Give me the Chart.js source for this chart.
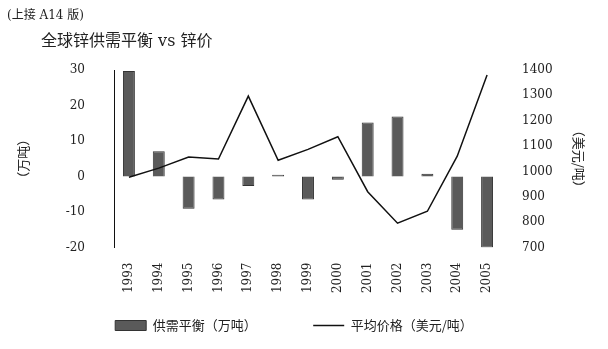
<!DOCTYPE html>
<html>
<head>
<meta charset="utf-8">
<script src="https://cdn.jsdelivr.net/npm/chart.js@4"></script>
<style>
  body { margin: 0; background: #fff; }
  #wrap { position: relative; width: 608px; height: 349px; }
  #myChart { position: absolute; left: 0; top: 0; }
  .note { position: absolute; left: 7px; top: 5px; font: 12px "DejaVu Serif", "Noto Sans CJK SC"; color: #222; }
  .head { position: absolute; left: 41px; top: 27px; font: 16px "DejaVu Serif", "Noto Sans CJK SC"; color: #222; }
</style>
</head>
<body>
<div id="wrap">
  <canvas id="myChart" width="608" height="349"></canvas>
  <div class="note">(上接 A14 版)</div>
  <div class="head">全球锌供需平衡 vs 锌价</div>
</div>
<script>
// data
let years = ["1993", "1994", "1995", "1996", "1997", "1998", "1999", "2000", "2001", "2002", "2003", "2004", "2005"];
let balance = [29.7, 7.1, -9.1, -6.5, -2.7, 0.5, -6.5, -0.9, 15.2, 16.9, 0.8, -15, -20];
let price = [977, 1013, 1057, 1049, 1297, 1044, 1087, 1137, 920, 796, 843, 1060, 1380];
let leftTicks = [30, 20, 10, 0, -10, -20];
let rightTicks = [1400, 1300, 1200, 1100, 1000, 900, 800, 700];

let tickFont = { family: "DejaVu Serif", size: 12 };
let cjkFont = { family: "Noto Sans CJK SC", size: 13 };

let ctx = document.getElementById('myChart').getContext('2d');
let myChart = new Chart(ctx, {
  data: {
    labels: years,
    datasets: [{
      type: 'bar',
      label: '供需平衡（万吨）\u3000\u3000\u3000',
      data: balance,
      yAxisID: 'y',
      backgroundColor: '#5a5a5a',
      borderColor: '#333',
      borderWidth: 1,
      barPercentage: 0.8,
      categoryPercentage: 0.5,
      pointStyle: 'rect',
      order: 1
    }, {
      type: 'line',
      label: '平均价格（美元/吨）',
      data: price,
      yAxisID: 'y1',
      borderColor: '#111',
      borderWidth: 1.5,
      pointRadius: 0,
      pointStyle: 'line',
      pointBorderColor: '#111',
      pointBorderWidth: 1.5,
      tension: 0,
      order: 0
    }]
  },
  options: {
    responsive: false,
    animation: false,
    layout: { padding: { top: 70, left: 0, right: 20, bottom: 7 } },
    plugins: {
      tooltip: { enabled: false },
      legend: {
        position: 'bottom',
        align: 'center',
        labels: {
          usePointStyle: true,
          pointStyleWidth: 31,
          boxHeight: 10,
          padding: 24,
          color: '#222',
          font: cjkFont,
          sort: (a, b) => a.datasetIndex - b.datasetIndex
        }
      }
    },
    scales: {
      x: {
        grid: { display: false, drawTicks: false },
        border: { display: false },
        ticks: {
          minRotation: 90, maxRotation: 90, autoSkip: false,
          padding: 15, color: '#222', font: tickFont
        },
        afterFit: s => { s.height = 47.5; }
      },
      y: {
        position: 'left',
        min: -20, max: 30,
        afterBuildTicks: s => { s.ticks = leftTicks.map(v => ({ value: v })); },
        grid: { display: false, drawTicks: false },
        border: { display: true, color: '#111', width: 1 },
        ticks: { padding: 29, color: '#222', font: tickFont, callback: v => String(v) },
        title: { display: true, text: '（万吨）', color: '#222', font: cjkFont, padding: { top: 15, bottom: 0 } },
        afterFit: s => { s.width = 114; }
      },
      y1: {
        position: 'right',
        min: 700, max: 1400,
        afterBuildTicks: s => { s.ticks = rightTicks.map(v => ({ value: v })); },
        grid: { display: false, drawTicks: false },
        border: { display: false },
        ticks: { padding: 20, color: '#222', font: tickFont, callback: v => String(v) },
        title: { display: true, text: '（美元/吨）', color: '#222', font: cjkFont, padding: { top: 1, bottom: 0 } },
        afterFit: s => { s.width = 86; }
      }
    }
  }
});
</script>
</body>
</html>
